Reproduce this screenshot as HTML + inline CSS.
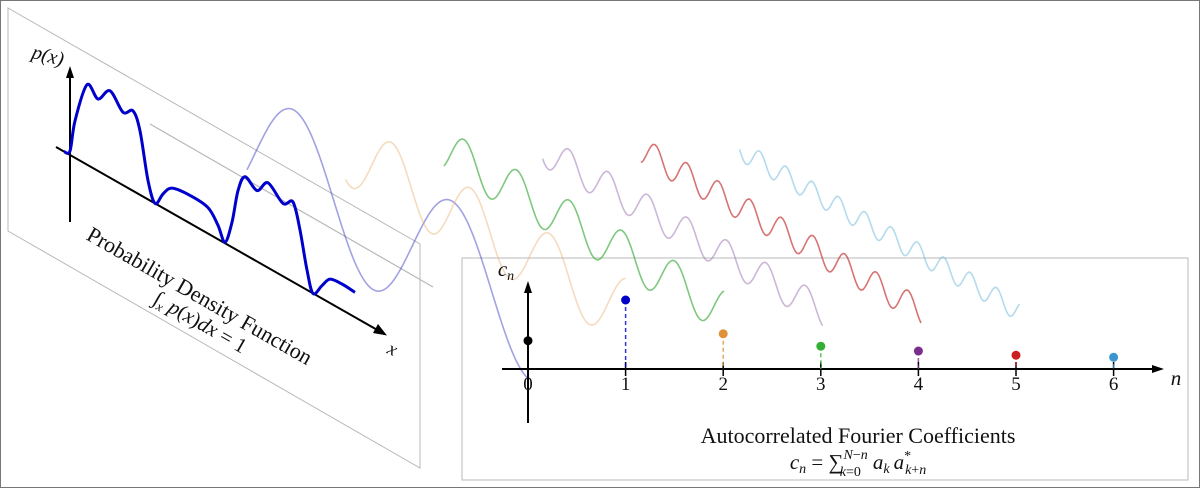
<!DOCTYPE html>
<html><head><meta charset="utf-8"><style>
html,body{margin:0;padding:0;background:#fff;}
svg{display:block;}
text{font-family:"Liberation Serif",serif;fill:#111;}
</style></head><body>
<svg id="fig" width="1200" height="488" viewBox="0 0 1200 488">
<rect x="0.5" y="0.5" width="1199" height="487" fill="#fff" stroke="#777" stroke-width="1"/>
<polygon points="8,8 420,244 420,468 8,231" fill="none" stroke="#b8b8b8" stroke-width="1"/>
<line x1="150" y1="124" x2="433" y2="287" stroke="#b8b8b8" stroke-width="1.2"/>
<rect x="462" y="258" width="726" height="222" fill="none" stroke="#b8b8b8" stroke-width="1"/>
<g id="waves"></g>
<g id="pdf">
<line x1="56" y1="147" x2="380" y2="331.5" stroke="#000" stroke-width="2"/>
<polygon points="387,335.5 373,333 378,324" fill="#000"/>
<line x1="70" y1="222" x2="70" y2="75" stroke="#000" stroke-width="2"/>
<polygon points="70,66 66,78 74,78" fill="#000"/>
<text x="48" y="62" font-size="20" font-style="italic" text-anchor="middle" transform="rotate(15 48 56)">p(x)</text>
<text x="392" y="355" font-size="19" font-style="italic" text-anchor="middle" transform="rotate(25 392 350)">x</text>
<text x="199" y="303" font-size="22" text-anchor="middle" transform="rotate(29.7 199 297)">Probability Density Function</text>
<text x="200" y="329" font-size="21" text-anchor="middle" transform="rotate(29.7 200 323)">∫<tspan font-size="13" font-style="italic" dy="4">x</tspan><tspan font-style="italic" dy="-4"> p</tspan>(<tspan font-style="italic">x</tspan>)<tspan font-style="italic">dx</tspan> = 1</text>
<path id="pdfCurve" fill="none" stroke="#0000cc" stroke-width="3" stroke-linejoin="round"/>
</g>
<g id="coef">
<line x1="502" y1="369" x2="1155" y2="369" stroke="#000" stroke-width="2"/>
<polygon points="1164,369 1152,365 1152,373" fill="#000"/>
<line x1="528" y1="423" x2="528" y2="290" stroke="#000" stroke-width="2"/>
<polygon points="528,281 524,293 532,293" fill="#000"/>
<text x="506" y="276" font-size="21" font-style="italic" text-anchor="middle">c<tspan font-size="14" dy="4">n</tspan></text>
<text x="1176" y="385" font-size="21" font-style="italic" text-anchor="middle">n</text>
<text x="858" y="443" font-size="22" text-anchor="middle">Autocorrelated Fourier Coefficients</text>
<text x="858" y="469" font-size="21" text-anchor="middle"><tspan font-style="italic">c</tspan><tspan font-size="14" font-style="italic" dy="4">n</tspan><tspan dy="-4"> = ∑</tspan><tspan font-size="14" font-style="italic" dy="-10">N</tspan><tspan font-size="14" dy="0">−</tspan><tspan font-size="14" font-style="italic">n</tspan><tspan font-size="14" font-style="italic" dx="-28" dy="17">k</tspan><tspan font-size="14" dy="0">=0</tspan><tspan font-style="italic" dx="12" dy="-7">a</tspan><tspan font-size="14" font-style="italic" dy="4">k</tspan><tspan font-style="italic" dx="4" dy="-4">a</tspan><tspan font-size="14" dy="-9">*</tspan><tspan font-size="14" font-style="italic" dx="-6" dy="14">k</tspan><tspan font-size="14" dy="0">+</tspan><tspan font-size="14" font-style="italic">n</tspan></text>
</g>
</svg>
<script>
const harmonics = [1, 2, 3, 4, 5, 6];
const waveAmps = [67, 34, 22, 16, 13.5, 10.5];
const wavePhases = [-0.3, -2.09, -0.82, -2.57, -1.21, -3.2];
const waveColors = ['#3030c0', '#e8b070', '#3aaa3a', '#9a70b0', '#c02a2a', '#6ab8d8'];
const waveOpacity = [0.45, 0.45, 0.65, 0.5, 0.65, 0.5];

const pdfT = [0,6,11,23,34,46,59,69,76,84,91,99,108,126,144,154,161,168,174,181,193,204,219,229,236,243,249,258,266,278,291];
const pdfP = [0,4,37,80,72,87,73,80,64,19,0,14,25,28,26,14,1,25,60,78,71,85,73,80,56,20,0,13,24,26,25];

const nVals = [0, 1, 2, 3, 4, 5, 6];
const cVals = [0.41, 1.0, 0.51, 0.33, 0.26, 0.2, 0.17];
const dotColors = ['#000000', '#0000c8', '#e0923a', '#33b033', '#7b2d8e', '#cc2020', '#3d95d0'];

const NS = 'http://www.w3.org/2000/svg';
const slope = 0.5697;
function catmull(pts){
  let d = 'M' + pts[0][0].toFixed(1) + ',' + pts[0][1].toFixed(1);
  for (let i = 0; i < pts.length - 1; i++) {
    const p0 = pts[Math.max(0, i - 1)], p1 = pts[i], p2 = pts[i + 1], p3 = pts[Math.min(pts.length - 1, i + 2)];
    const c1 = [p1[0] + (p2[0] - p0[0]) / 6, p1[1] + (p2[1] - p0[1]) / 6];
    const c2 = [p2[0] - (p3[0] - p1[0]) / 6, p2[1] - (p3[1] - p1[1]) / 6];
    d += 'C' + c1.map(v => v.toFixed(1)).join(',') + ' ' + c2.map(v => v.toFixed(1)).join(',') + ' ' + p2[0].toFixed(1) + ',' + p2[1].toFixed(1);
  }
  return d;
}
const pdfX = t => 64 + t;
const pdfY = (t, p) => 151.6 + slope * t - p;
const pdfPts = pdfT.map((t, i) => [pdfX(t), pdfY(t, pdfP[i])]);
document.getElementById('pdfCurve').setAttribute('d', catmull(pdfPts));

const wg = document.getElementById('waves');
const basePeriod = 158, waveLen = 280;
harmonics.forEach((h, i) => {
  const x0 = 247 + 98.5 * i;
  let d = '';
  for (let s = 0; s <= waveLen; s += 2) {
    const x = x0 + s;
    const y = 150 + 0.576 * s - waveAmps[i] * Math.sin(2 * Math.PI * h * s / basePeriod + wavePhases[i]);
    d += (s === 0 ? 'M' : 'L') + x.toFixed(1) + ',' + y.toFixed(1);
  }
  const p = document.createElementNS(NS, 'path');
  p.setAttribute('d', d);
  p.setAttribute('fill', 'none');
  p.setAttribute('stroke', waveColors[i]);
  p.setAttribute('stroke-width', '1.6');
  p.setAttribute('stroke-opacity', waveOpacity[i]);
  
  
  wg.appendChild(p);
});

const cg = document.getElementById('coef');
const xS = n => 528 + 97.6 * n;
const yS = v => 369 - 69 * v;
nVals.forEach((n, i) => {
  const x = xS(n);
  if (n > 0) {
    const tk = document.createElementNS(NS, 'line');
    tk.setAttribute('x1', x); tk.setAttribute('x2', x);
    tk.setAttribute('y1', 362); tk.setAttribute('y2', 376);
    tk.setAttribute('stroke', '#000'); tk.setAttribute('stroke-width', '1.5');
    
    
    cg.appendChild(tk);
    const st = document.createElementNS(NS, 'line');
    st.setAttribute('x1', x); st.setAttribute('x2', x);
    st.setAttribute('y1', yS(cVals[i])); st.setAttribute('y2', 369);
    st.setAttribute('stroke', dotColors[i]); st.setAttribute('stroke-width', '1.5');
    st.setAttribute('stroke-dasharray', '4,3'); st.setAttribute('stroke-opacity', '0.8');
    
    
    cg.appendChild(st);
  }
  const tl = document.createElementNS(NS, 'text');
  tl.setAttribute('x', x); tl.setAttribute('y', 390);
  tl.setAttribute('font-size', '19'); tl.setAttribute('text-anchor', 'middle');
  tl.textContent = String(n);
  
  
  cg.appendChild(tl);
  const c = document.createElementNS(NS, 'circle');
  c.setAttribute('cx', x); c.setAttribute('cy', yS(cVals[i])); c.setAttribute('r', 4.5);
  c.setAttribute('fill', dotColors[i]);
  
  
  cg.appendChild(c);
});
</script>
</body></html>
